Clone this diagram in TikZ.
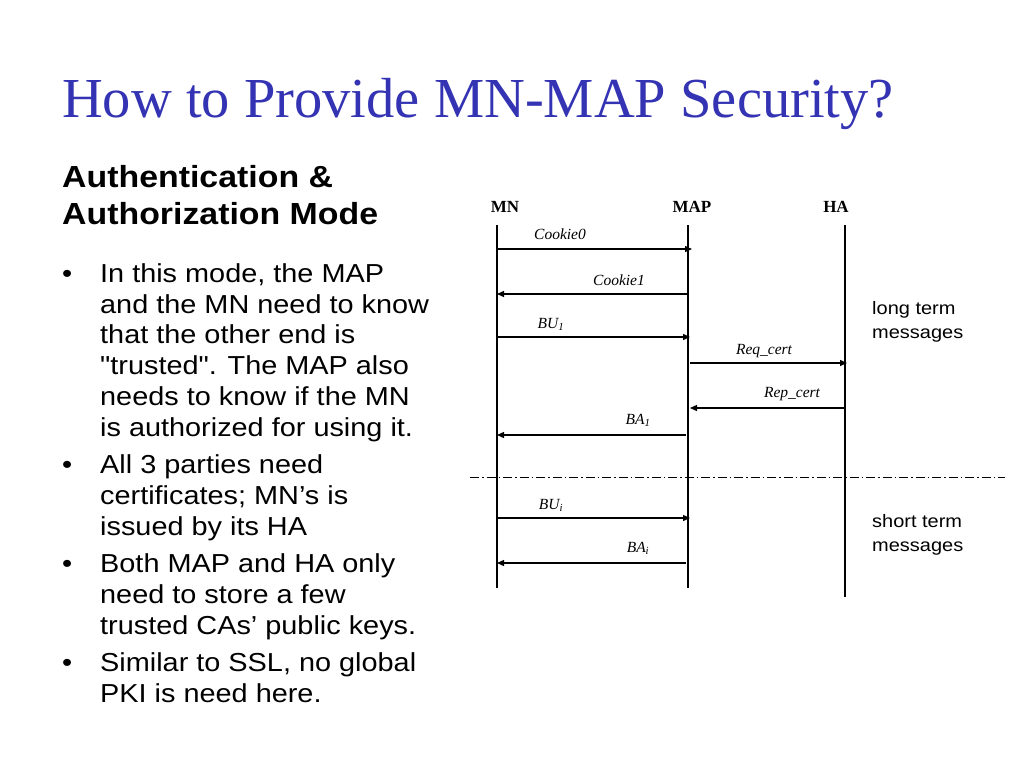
\documentclass[tikz,border=0pt]{standalone}
\usepackage{fontspec}
\setmainfont{Liberation Serif}
\newfontfamily\arialfont[FakeStretch=1.11]{Liberation Sans}
\usetikzlibrary{arrows.meta}
\definecolor{titleblue}{RGB}{51,51,179}
\begin{document}
\begin{tikzpicture}[x=1pt,y=-1pt,
  lifeline/.style={line width=1.6pt},
  msg/.style={line width=1.3pt,-{Triangle[length=7pt,width=6pt]}},
  msglbl/.style={font=\fontsize{15.5}{17}\selectfont\itshape,anchor=base,inner sep=0pt},
  head/.style={font=\fontsize{17}{19}\selectfont\bfseries,anchor=base,inner sep=0pt},
  bodyline/.style={font=\arialfont\fontsize{26}{31}\selectfont,anchor=base west,inner sep=0pt},
  sidelbl/.style={font=\arialfont\fontsize{18}{22}\selectfont,anchor=base west,inner sep=0pt},
  headline/.style={font=\arialfont\fontsize{30.5}{36}\selectfont\bfseries,anchor=base west,inner sep=0pt},
  bulletmark/.style={font=\arialfont\fontsize{26}{31}\selectfont,anchor=base west,inner sep=0pt}]
\useasboundingbox[fill=white] (0,0) rectangle (1024,768);
% title
\node[font=\fontsize{56.5}{62}\selectfont,text=titleblue,anchor=base west,inner sep=0pt] (title) at (62,117) {How to Provide MN-MAP Security?};
% heading
\node[headline] (h1) at (62,187) {Authentication \&};
\node[headline] (h2) at (62,224) {Authorization Mode};
% bullets
\node[bulletmark] (b1) at (62,282) {•};
\node[bodyline] (l1) at (100,282) {In this mode, the MAP};
\node[bodyline] (l2) at (100,313) {and the MN need to know};
\node[bodyline] (l3) at (100,343) {that the other end is};
\node[bodyline] (l4) at (100,374) {"trusted". The MAP also};
\node[bodyline] (l5) at (100,405) {needs to know if the MN};
\node[bodyline] (l6) at (100,436) {is authorized for using it.};
\node[bulletmark] (b2) at (62,473) {•};
\node[bodyline] (l7) at (100,473) {All 3 parties need};
\node[bodyline] (l8) at (100,504) {certificates; MN’s is};
\node[bodyline] (l9) at (100,535) {issued by its HA};
\node[bulletmark] (b3) at (62,572) {•};
\node[bodyline] (l10) at (100,572) {Both MAP and HA only};
\node[bodyline] (l11) at (100,603) {need to store a few};
\node[bodyline] (l12) at (100,634) {trusted CAs’ public keys.};
\node[bulletmark] (b4) at (62,671) {•};
\node[bodyline] (l13) at (100,671) {Similar to SSL, no global};
\node[bodyline] (l14) at (100,702) {PKI is need here.};
% headers
\node[head] (mn) at (505,212) {MN};
\node[head] (map) at (692,212) {MAP};
\node[head] (ha) at (836,212) {HA};
% lifelines
\coordinate (mnT) at (497,225); \coordinate (mnB) at (497,588);
\coordinate (mapT) at (688,225); \coordinate (mapB) at (688,588);
\coordinate (haT) at (845,225); \coordinate (haB) at (845,597);
\draw[lifeline] (mnT) -- (mnB);
\draw[lifeline] (mapT) -- (mapB);
\draw[lifeline] (haT) -- (haB);
% message endpoints
\coordinate (a1) at (497,249); \coordinate (b1e) at (692,249);
\coordinate (a2) at (688,294); \coordinate (b2e) at (497,294);
\coordinate (a3) at (497,337); \coordinate (b3e) at (690,337);
\coordinate (a4) at (690,363); \coordinate (b4e) at (847,363);
\coordinate (a5) at (845,408); \coordinate (b5e) at (690,408);
\coordinate (a6) at (686,435); \coordinate (b6e) at (497,435);
\coordinate (a7) at (497,518); \coordinate (b7e) at (690,518);
\coordinate (a8) at (686,563); \coordinate (b8e) at (497,563);
\draw[msg] (a1) -- (b1e);
\draw[msg] (a2) -- (b2e);
\draw[msg] (a3) -- (b3e);
\draw[msg] (a4) -- (b4e);
\draw[msg] (a5) -- (b5e);
\draw[msg] (a6) -- (b6e);
\draw[msg] (a7) -- (b7e);
\draw[msg] (a8) -- (b8e);
% labels
\node[msglbl] (c0) at (560,239) {Cookie0};
\node[msglbl] (c1) at (619,285) {Cookie1};
\node[msglbl] (bu1) at (551,328) {BU\textsubscript{\itshape 1}};
\node[msglbl] (rq) at (764,354) {Req\_cert};
\node[msglbl] (rp) at (792,397) {Rep\_cert};
\node[msglbl] (ba1) at (638,424) {BA\textsubscript{\itshape 1}};
\node[msglbl] (bui) at (551,509) {BU\textsubscript{\itshape i}};
\node[msglbl] (bai) at (638,552) {BA\textsubscript{\itshape i}};
% separator
\coordinate (sepL) at (470,477); \coordinate (sepR) at (1005,477);
\draw[line width=0.6pt,dash pattern=on 9pt off 3pt on 1.5pt off 3pt] (sepL) -- (sepR);
% side labels
\node[sidelbl] (lt1) at (872,314) {long term};
\node[sidelbl] (lt2) at (872,338) {messages};
\node[sidelbl] (st1) at (872,527) {short term};
\node[sidelbl] (st2) at (872,551) {messages};
\end{tikzpicture}
\end{document}
